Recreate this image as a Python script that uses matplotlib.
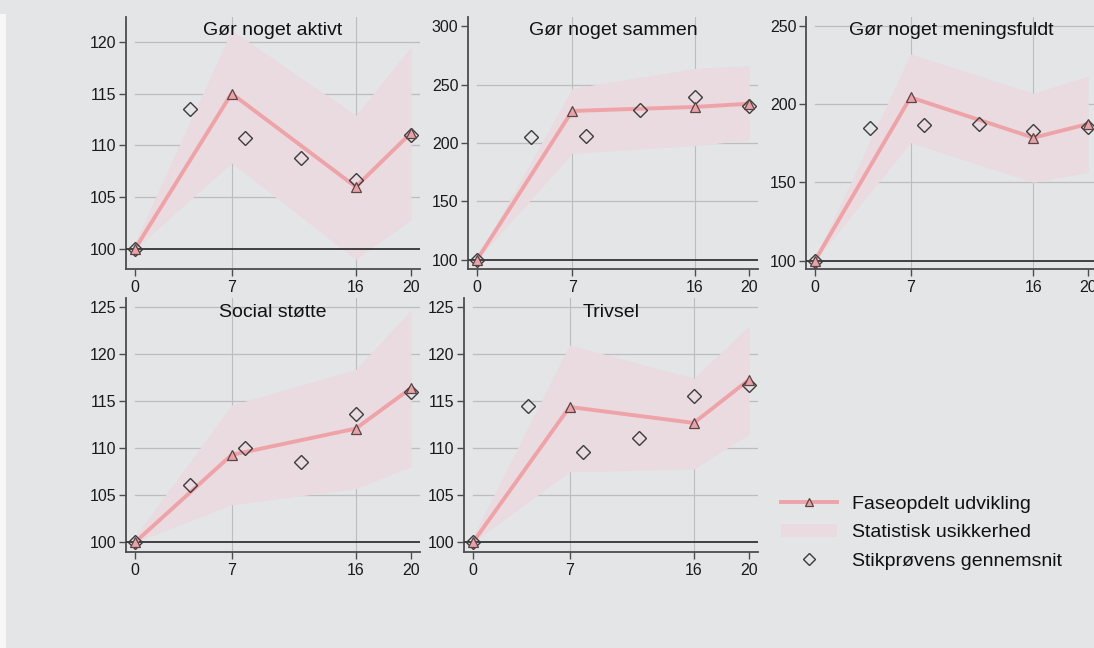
import matplotlib
matplotlib.use("Agg")
import matplotlib.pyplot as plt
from matplotlib.lines import Line2D
from matplotlib.patches import Patch, Rectangle

plt.rcParams['font.family'] = ['Liberation Sans', 'DejaVu Sans']

# ---------------- data ----------------
phase_x = [0, 7, 16, 20]
mean_x = [0, 4, 8, 12, 16, 20]
x_ticks = [0, 7, 16, 20]

titles = ["Gør noget aktivt", "Gør noget sammen", "Gør noget meningsfuldt",
          "Social støtte", "Trivsel"]

aktivt_phase = [100, 115.0, 106.0, 111.2]
aktivt_lo = [100, 108.3, 99.0, 102.8]
aktivt_hi = [100.6, 121.1, 112.9, 119.5]
aktivt_mean = [100, 113.5, 110.7, 108.8, 106.7, 111.0]

sammen_phase = [100, 227.4, 230.8, 233.6]
sammen_lo = [100, 191.2, 197.7, 202.6]
sammen_hi = [101, 246.7, 263.8, 266.1]
sammen_mean = [100, 205.4, 206.0, 228.2, 239.0, 231.6]

menings_phase = [100, 204.4, 178.6, 187.4]
menings_lo = [100, 175.4, 150.1, 156.5]
menings_hi = [101, 232.1, 207.0, 218.0]
menings_mean = [100, 184.8, 186.7, 187.2, 182.9, 185.7]

social_phase = [100, 109.3, 112.1, 116.4]
social_lo = [100, 104.0, 105.7, 108.05]
social_hi = [100.6, 114.6, 118.4, 124.7]
social_mean = [100, 106.1, 110.0, 108.5, 113.65, 116.0]

trivsel_phase = [100, 114.4, 112.7, 117.3]
trivsel_lo = [100, 107.5, 107.8, 111.5]
trivsel_hi = [100.6, 121.0, 117.45, 123.0]
trivsel_mean = [100, 114.5, 109.6, 111.1, 115.6, 116.7]

yticks_list = [
    [100, 105, 110, 115, 120],
    [100, 150, 200, 250, 300],
    [100, 150, 200, 250],
    [100, 105, 110, 115, 120, 125],
    [100, 105, 110, 115, 120, 125],
]
grid_list = [
    [105, 110, 115, 120],
    [150, 200, 250],
    [150, 200, 250],
    [105, 110, 115, 120, 125],
    [105, 110, 115, 120, 125],
]
ylims = [(98.07, 122.38), (92.3, 307.7), (94.7, 255.75), (98.97, 125.99), (98.97, 125.99)]

series = [
    (aktivt_phase, aktivt_lo, aktivt_hi, aktivt_mean),
    (sammen_phase, sammen_lo, sammen_hi, sammen_mean),
    (menings_phase, menings_lo, menings_hi, menings_mean),
    (social_phase, social_lo, social_hi, social_mean),
    (trivsel_phase, trivsel_lo, trivsel_hi, trivsel_mean),
]

legend_labels = ["Faseopdelt udvikling", "Statistisk usikkerhed", "Stikprøvens gennemsnit"]

# ---------------- style ----------------
W, H = 1094, 648
BG = '#e4e5e7'
LINE = '#eea3a9'
BAND = '#e9dbdf'
TRI_FACE = '#e9a2a8'
TRI_EDGE = '#5a4446'
DIA_EDGE = '#3c3c3c'
GRID = '#bdbdbd'
SPINE = '#4d4d4d'
XLIM = (-0.65, 20.65)

# panel pixel boxes: left, right, top, bottom
boxes = [
    (126, 420, 17, 269),
    (468, 758, 17, 269),
    (806, 1097, 17, 269),
    (126, 420, 298, 552),
    (464, 758, 298, 552),
]

fig = plt.figure(figsize=(W / 100, H / 100), dpi=100)
fig.patch.set_facecolor(BG)
fig.patches.append(Rectangle((0, 0), 6 / W, 1 - 14 / H, transform=fig.transFigure,
                             facecolor='#f7f7f7', edgecolor='none', zorder=-5))

for i, (box, title) in enumerate(zip(boxes, titles)):
    l, r, t, b = box
    ax = fig.add_axes([l / W, 1 - b / H, (r - l) / W, (b - t) / H])
    ax.set_facecolor('none')
    phase, lo, hi, mean = series[i]
    ax.set_xlim(*XLIM)
    ax.set_ylim(*ylims[i])

    for gy in grid_list[i]:
        ax.plot([0, XLIM[1]], [gy, gy], color=GRID, lw=0.9, zorder=1)
    for gx in [7, 16]:
        ax.axvline(gx, color=GRID, lw=0.8, zorder=1)

    ax.fill_between(phase_x, lo, hi, color=BAND, lw=0, zorder=2)
    ax.axhline(100, color='#333333', lw=1.3, zorder=3)
    ax.plot(phase_x, phase, color=LINE, lw=2.8, zorder=4, solid_capstyle='round')
    ax.plot(mean_x, mean, ls='none', marker='D', ms=7, mfc='none', mec=DIA_EDGE,
            mew=1.0, zorder=5)
    ax.plot(phase_x, phase, ls='none', marker='^', ms=7, mfc=TRI_FACE, mec=TRI_EDGE,
            mew=0.9, zorder=6)

    ax.set_xticks(x_ticks)
    ax.set_yticks(yticks_list[i])
    for s in ['top', 'right']:
        ax.spines[s].set_visible(False)
    for s in ['left', 'bottom']:
        ax.spines[s].set_color(SPINE)
        ax.spines[s].set_linewidth(1.3)
    ax.tick_params(axis='both', direction='out', length=5, width=1.0, color=SPINE,
                   labelsize=11.5, labelcolor='#1a1a1a')
    ax.tick_params(axis='x', pad=3)
    ax.tick_params(axis='y', pad=2)

    ax.text(0.5, 0.927, title, transform=ax.transAxes, ha='center', va='baseline',
            fontsize=14, color='#111111', zorder=7)

handles = [
    Line2D([0], [0], color=LINE, lw=2.8, marker='^', ms=6, mfc=TRI_FACE, mec=TRI_EDGE, mew=0.9),
    Patch(facecolor=BAND, edgecolor='none'),
    Line2D([0], [0], ls='none', marker='D', ms=6, mfc='none', mec=DIA_EDGE, mew=1.0),
]
fig.legend(handles, legend_labels, loc='upper left',
           bbox_to_anchor=(781 / W, 1 - 495 / H), frameon=False, fontsize=14,
           handlelength=2.9, handletextpad=0.75, labelspacing=0.56, borderpad=0,
           borderaxespad=0, labelcolor='#111111')

fig.savefig('out.png', dpi=100, facecolor=BG)
